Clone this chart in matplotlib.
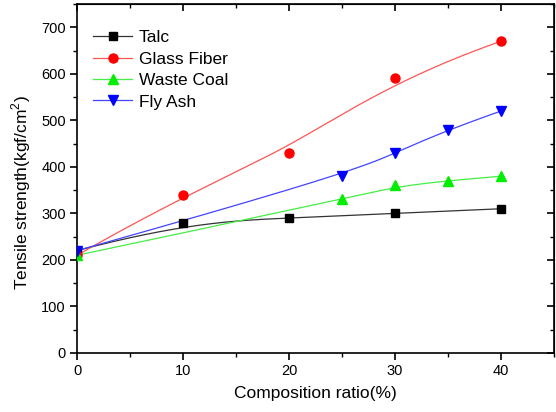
import numpy as np
import matplotlib
matplotlib.use("Agg")
import matplotlib.pyplot as plt
from matplotlib.ticker import MultipleLocator

plt.rcParams['font.family'] = ['Liberation Sans', 'DejaVu Sans']
plt.rcParams['mathtext.fontset'] = 'custom'
plt.rcParams['mathtext.rm'] = 'Liberation Sans'

talc_x = [0, 10, 20, 30, 40]
talc_y = [220, 280, 290, 300, 310]
glass_x = [0, 10, 20, 30, 40]
glass_y = [210, 340, 430, 590, 670]
coal_x = [0, 25, 30, 35, 40]
coal_y = [210, 330, 360, 370, 380]
fly_x = [0, 25, 30, 35, 40]
fly_y = [220, 380, 430, 480, 520]


def bspline(xs, ys, k=3, n=200):
    P = np.column_stack([xs, ys]).astype(float)
    m = len(P)
    k = min(k, m - 1)
    inner = np.linspace(0, 1, m - k + 1)
    knots = np.concatenate([np.zeros(k), inner, np.ones(k)])
    ts = np.linspace(0, 1, n)
    out = []
    for t in ts:
        if t >= 1.0:
            out.append(P[-1]); continue
        j = np.searchsorted(knots, t, side='right') - 1
        d = [P[j - k + i].copy() for i in range(k + 1)]
        for r in range(1, k + 1):
            for i in range(k, r - 1, -1):
                a = (t - knots[j - k + i]) / (knots[j + 1 + i - r] - knots[j - k + i])
                d[i] = (1 - a) * d[i - 1] + a * d[i]
        out.append(d[k])
    out = np.array(out)
    return out[:, 0], out[:, 1]


fig = plt.figure(figsize=(5.56, 4.12), dpi=100)
ax = fig.add_axes([77/556, 1 - 353/412, (554-77)/556, (353-4)/412])

series = [
    (talc_x, talc_y, 'black', 's', 'Talc', 5.5),
    (glass_x, glass_y, 'red', 'o', 'Glass Fiber', 6.5),
    (coal_x, coal_y, '#00ee00', '^', 'Waste Coal', 7),
    (fly_x, fly_y, 'blue', 'v', 'Fly Ash', 7),
]
lc = {'black': '#333333', 'red': '#ff5555', '#00ee00': '#44ee44', 'blue': '#4444ff'}
for xs, ys, c, m, lab, ms in series:
    bx, by = bspline(xs, ys)
    ax.plot(bx, by, color=lc[c], lw=0.9, zorder=2)
    ax.plot(xs, ys, linestyle='none', marker=m, color=c, markersize=ms, zorder=3)
    ax.plot([], [], color=lc[c], lw=0.9, marker=m, markerfacecolor=c,
            markeredgecolor=c, markersize=ms, label=lab)

ax.set_xlim(0, 45)
ax.set_ylim(0, 750)
ax.xaxis.set_major_locator(MultipleLocator(10))
ax.xaxis.set_minor_locator(MultipleLocator(5))
ax.yaxis.set_major_locator(MultipleLocator(100))
ax.yaxis.set_minor_locator(MultipleLocator(50))
ax.set_xticks([0, 10, 20, 30, 40])
ax.set_yticks(range(0, 800, 100))

for s in ax.spines.values():
    s.set_linewidth(1.2)
ax.tick_params(which='major', direction='out', length=5, width=1.2, labelsize=10.5, pad=3)
ax.tick_params(which='minor', direction='out', length=3, width=1.0)

top = ax.secondary_xaxis('top')
top.set_xticks([0, 10, 20, 30, 40])
top.xaxis.set_minor_locator(MultipleLocator(5))
top.tick_params(which='major', direction='in', length=5, width=1.2, labeltop=False)
top.tick_params(which='minor', direction='in', length=3, width=1.0)
top.set_xticklabels([])
right = ax.secondary_yaxis('right')
right.set_yticks(range(0, 800, 100))
right.yaxis.set_minor_locator(MultipleLocator(50))
right.tick_params(which='major', direction='in', length=5, width=1.2)
right.tick_params(which='minor', direction='in', length=3, width=1.0)
right.set_yticklabels([])

ax.set_xlabel('Composition ratio(%)', fontsize=12.5, labelpad=6)
ax.set_ylabel('Tensile strength(kgf/cm$^2$)', fontsize=12.5)
ax.yaxis.set_label_coords(-0.092, 0.46)

ax.legend(loc='upper left', bbox_to_anchor=(0.02, 0.945), frameon=False,
          fontsize=12.5, handlelength=2.2, handletextpad=0.4, labelspacing=0.36,
          borderaxespad=0)

fig.savefig('out.png', dpi=100)
